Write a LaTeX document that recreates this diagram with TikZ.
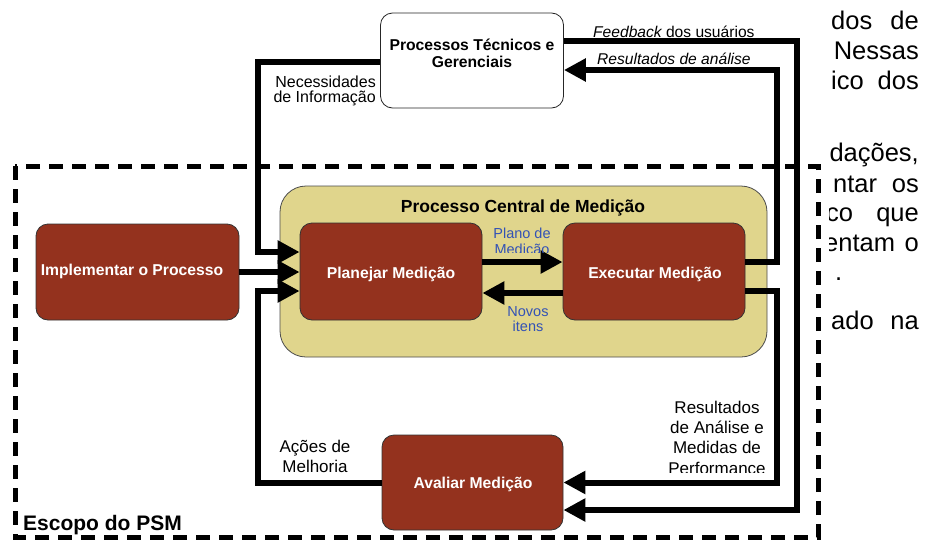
\documentclass[tikz,border=0pt]{standalone}
\usepackage{fontspec}
\setmainfont{Liberation Sans}
\usetikzlibrary{arrows.meta}

\definecolor{boxred}{HTML}{94321E}
\definecolor{coreyellow}{HTML}{E0D58C}
\definecolor{noteblue}{HTML}{3352B5}

\tikzset{
  stage/.style={draw=black!80, line width=0.8pt, fill=boxred, rounded corners=12pt,
    inner sep=0pt},
  stagelabel/.style={anchor=base, inner sep=0pt, text=white,
    font=\fontsize{15.7}{18}\selectfont\bfseries},
  outerbox/.style={draw=black!85, line width=0.8pt, fill=white, rounded corners=12pt,
    inner sep=0pt},
  corebox/.style={draw=black!70, line width=0.8pt, fill=coreyellow, rounded corners=26pt,
    inner sep=0pt},
  flow/.style={line width=6pt, -{Triangle[length=22pt,width=22pt]}},
  scopeline/.style={line width=5pt, dash pattern=on 14pt off 9pt},
  note/.style={anchor=base, inner sep=0pt, font=\fontsize{16}{18}\selectfont},
  bluenote/.style={anchor=base, inner sep=0pt, text=noteblue,
    font=\fontsize{14.5}{16}\selectfont},
  bodytext/.style={anchor=base, inner sep=0pt, font=\fontsize{25.5}{30}\selectfont},
}

\begin{document}
\begin{tikzpicture}[x=1pt,y=-1pt]
\useasboundingbox (0,0) rectangle (925,541);
\fill[white] (0,0) rectangle (925,541);

% scope of the PSM
\draw[scopeline] (15,166) rectangle (818,537);
\node[anchor=base west, inner sep=0pt, font=\fontsize{21}{24}\selectfont\bfseries]
  (scopetitle) at (23,530) {Escopo do PSM};

% core measurement process
\node[corebox, minimum width=487pt, minimum height=171pt] (core) at (523.5,271.5) {};
\node[anchor=base, inner sep=0pt, font=\fontsize{17.5}{20}\selectfont\bfseries]
  (coretitle) at (523,212) {Processo Central de Medição};

% boxes
\node[outerbox, minimum width=183pt, minimum height=95pt] (top) at (472,60.5) {};
\node[anchor=base, inner sep=0pt, font=\fontsize{15.7}{18}\selectfont\bfseries]
  (toptext1) at (472,50) {Processos Técnicos e};
\node[anchor=base, inner sep=0pt, font=\fontsize{15.7}{18}\selectfont\bfseries]
  (toptext2) at (472,67) {Gerenciais};

\node[stage, minimum width=203pt, minimum height=96pt] (imp) at (137.5,272) {};
\node[stagelabel] (imptext) at (132,275) {Implementar o Processo};

\node[stage, minimum width=182pt, minimum height=97pt] (plan) at (391,271.5) {};
\node[stagelabel] (plantext) at (391,278) {Planejar Medição};

\node[stage, minimum width=182pt, minimum height=97pt] (exec) at (654,271.5) {};
\node[stagelabel] (exectext) at (655,278) {Executar Medição};

\node[stage, minimum width=181pt, minimum height=95pt] (aval) at (472.5,482.5) {};
\node[stagelabel] (avaltext) at (473,488) {Avaliar Medição};

% routing columns and port points
\coordinate (leftbus) at (258,0);
\coordinate (midbus) at (777,0);
\coordinate (outerbus) at (797,0);
\coordinate (topOutL) at ([yshift=-1.5pt]top.west);
\coordinate (topOutR) at ([yshift=19.5pt]top.east);
\coordinate (topIn) at ([yshift=-9.5pt]top.east);
\coordinate (planIn1) at ([yshift=19.5pt]plan.west);
\coordinate (planIn3) at ([yshift=-19.5pt]plan.west);
\coordinate (planOut) at ([yshift=9.5pt]plan.east);
\coordinate (execBack) at ([yshift=-21.5pt]exec.west);
\coordinate (execOut1) at ([yshift=9.5pt]exec.east);
\coordinate (execOut2) at ([yshift=-19.5pt]exec.east);
\coordinate (avalIn2) at ([yshift=-27.5pt]aval.east);

% connectors
\draw[flow] (topOutL) -| (leftbus |- planIn1) -- (planIn1);
\draw[flow] (imp.east) -- (imp.east -| plan.west);
\draw[flow] (aval.west) -| (leftbus |- planIn3) -- (planIn3);
\draw[flow] (planOut) -- (planOut -| exec.west);
\draw[flow] (execBack) -- (execBack -| plan.east);
\draw[flow] (execOut1) -| (midbus |- topIn) -- (topIn);
\draw[flow] (topOutR) -| (outerbus |- avalIn2) -- (avalIn2);
\draw[flow] (execOut2) -| (midbus |- aval.east) -- (aval.east);

% connector labels
\node[note, anchor=base east] (need1) at (376,87) {Necessidades};
\node[note, anchor=base east] (need2) at (376,102) {de Informação};
\node[note, anchor=base west, font=\fontsize{15.6}{18}\selectfont] (fb) at (593,37)
  {\itshape Feedback\upshape{} dos usuários};
\node[note, anchor=base west, font=\fontsize{15.6}{18}\selectfont\itshape] (ra) at (597,64)
  {Resultados de análise};

\begin{scope}
  \clip (470,215) rectangle (580,252);
  \node[bluenote] (plano1) at (522,238) {Plano de};
  \node[bluenote] (plano2) at (522,254) {Medição};
\end{scope}
\node[bluenote] (novos1) at (528,316) {Novos};
\node[bluenote] (novos2) at (528,331) {itens};

\node[note, font=\fontsize{17}{20}\selectfont] (acoes1) at (315,452) {Ações de};
\node[note, font=\fontsize{17}{20}\selectfont] (acoes2) at (315,472) {Melhoria};

\begin{scope}
  \clip (640,390) rectangle (772,472);
  \node[note, font=\fontsize{17}{20}\selectfont] (res1) at (717,413) {Resultados};
  \node[note, font=\fontsize{17}{20}\selectfont] (res2) at (717,433) {de Análise e};
  \node[note, font=\fontsize{17}{20}\selectfont] (res3) at (717,453) {Medidas de};
  \node[note, font=\fontsize{17}{20}\selectfont] (res4) at (717,474) {Performance};
\end{scope}

% running text beside the figure, cut at its left edge
\begin{scope}
  \clip (829,0) rectangle (925,541);
  \node[bodytext, anchor=base west] (b1a) at (831,29) {dos};
  \node[bodytext, anchor=base east] (b1b) at (919,29) {de};
  \node[bodytext, anchor=base east] (b2) at (919,59) {Nessas};
  \node[bodytext, anchor=base west] (b3a) at (831,89) {ico};
  \node[bodytext, anchor=base east] (b3b) at (919,89) {dos};
  \node[bodytext, anchor=base east] (b4) at (919,161) {dações,};
  \node[bodytext, anchor=base west] (b5a) at (833,192) {ntar};
  \node[bodytext, anchor=base east] (b5b) at (919,192) {os};
  \node[bodytext, anchor=base west] (b6a) at (826,221) {co};
  \node[bodytext, anchor=base east] (b6b) at (919,221) {que};
  \node[bodytext, anchor=base west] (b7a) at (824,251) {entam};
  \node[bodytext, anchor=base east] (b7b) at (919,251) {o};
  \node[bodytext, anchor=base west] (b8) at (835,280) {.};
  \node[bodytext, anchor=base west] (b9a) at (831,329) {ado};
  \node[bodytext, anchor=base east] (b9b) at (919,329) {na};
\end{scope}
\end{tikzpicture}
\end{document}
